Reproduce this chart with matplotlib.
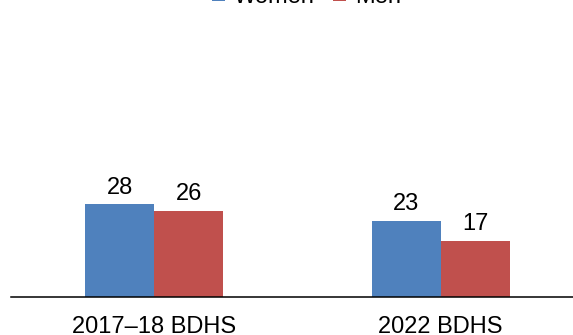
import matplotlib
matplotlib.use('Agg')
import matplotlib.pyplot as plt
import numpy as np

# survey rounds and values (percent)
surveys = ['2017\u201318 BDHS', '2022 BDHS']
women = [28, 23]
men = [26, 17]

plt.rcParams['font.family'] = ['Liberation Sans', 'DejaVu Sans']

blue = '#4F81BD'
red = '#C0504D'


def draw_chart():
    fig = plt.figure(figsize=(5.73, 3.35), dpi=100)
    ax = fig.add_axes([11 / 573, 38 / 335, 573 / 573, 265 / 335])

    x = np.arange(len(surveys))
    w = 0.24
    b1 = ax.bar(x - w / 2, women, w, color=blue, label='Women')
    b2 = ax.bar(x + w / 2, men, w, color=red, label='Men')

    ax.bar_label(b1, padding=4, fontsize=17)
    ax.bar_label(b2, padding=4, fontsize=17)

    ax.set_xlim(-0.5, 1.5)
    ax.set_ylim(0, 80)
    ax.set_xticks(x)
    ax.set_xticklabels(surveys, fontsize=17)
    ax.tick_params(axis='x', length=0, pad=14)
    ax.set_yticks([])
    for s in ['top', 'left', 'right']:
        ax.spines[s].set_visible(False)
    ax.spines['bottom'].set_linewidth(1.1)
    ax.spines['bottom'].set_color('black')

    fig.legend(loc='center', bbox_to_anchor=(0.535, 1.01), ncol=2, frameon=False,
               fontsize=17, handlelength=0.55, handleheight=0.55,
               handletextpad=0.35, columnspacing=0.8)

    fig.savefig('out.png', dpi=100)


if __name__ == '__main__':
    draw_chart()
